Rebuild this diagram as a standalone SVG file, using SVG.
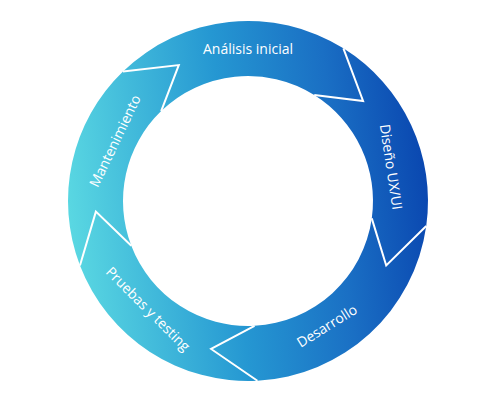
<svg xmlns="http://www.w3.org/2000/svg" width="495" height="400" viewBox="0 0 495 400">
  <style>
    .seg { fill: url(#ringGrad); stroke: none; }
    .edge { fill: none; stroke: #ffffff; stroke-width: 2; stroke-linejoin: miter; }
    .lbl { font-family: "Open Sans", "Liberation Sans", sans-serif; font-size: 14px; fill: #ffffff; text-anchor: middle; }
  </style>
  <defs>
    <linearGradient id="ringGrad" gradientUnits="userSpaceOnUse" x1="68" y1="220" x2="428" y2="180">
      <stop offset="0" stop-color="#5ad8e2"/>
      <stop offset="0.45" stop-color="#2597d2"/>
      <stop offset="0.75" stop-color="#1a6fc4"/>
      <stop offset="1" stop-color="#0a47b0"/>
    </linearGradient>
  </defs>
  <rect width="495" height="400" fill="#ffffff"/>

  <g id="analisis-inicial">
    <path class="seg" d="M122.96,71.52 A180,180 0 0 1 343.39,48.35 L363.09,100.95 L314.24,94.99 A125,125 0 0 0 161.17,111.08 L178.77,65.12 Z"/>
    <text class="lbl" x="248" y="54">Análisis inicial</text>
  </g>

  <g id="diseno-ux-ui">
    <path class="seg" d="M343.39,48.35 A180,180 0 0 1 426.25,226.05 L386.21,265.45 L371.78,218.40 A125,125 0 0 0 314.24,94.99 L363.09,100.95 Z"/>
    <text class="lbl" x="391" y="167" dy="0.35em" transform="rotate(81.5 391 167)">Diseño UX/UI</text>
  </g>

  <g id="desarrollo">
    <path class="seg" d="M426.25,226.05 A180,180 0 0 1 257.42,380.75 L211.11,348.97 L254.54,325.83 A125,125 0 0 0 371.78,218.40 L386.21,265.45 Z"/>
    <text class="lbl" x="327" y="326" dy="0.35em" transform="rotate(-32 327 326)">Desarrollo</text>
  </g>

  <g id="pruebas-y-testing">
    <path class="seg" d="M257.42,380.75 A180,180 0 0 1 79.96,265.51 L95.87,211.64 L131.30,245.80 A125,125 0 0 0 254.54,325.83 L211.11,348.97 Z"/>
    <text class="lbl" x="148" y="309" dy="0.35em" transform="rotate(45 148 309)">Pruebas y testing</text>
  </g>

  <g id="mantenimiento">
    <path class="seg" d="M79.96,265.51 A180,180 0 0 1 122.96,71.52 L178.77,65.12 L161.17,111.08 A125,125 0 0 0 131.30,245.80 L95.87,211.64 Z"/>
    <text class="lbl" x="115" y="141" dy="0.35em" transform="rotate(-64.4 115 141)">Mantenimiento</text>
  </g>

  <g id="connectors">
    <polyline class="edge" points="343.39,48.35 363.09,100.95 314.24,94.99"/>
    <polyline class="edge" points="426.25,226.05 386.21,265.45 371.78,218.40"/>
    <polyline class="edge" points="257.42,380.75 211.11,348.97 254.54,325.83"/>
    <polyline class="edge" points="79.96,265.51 95.87,211.64 131.30,245.80"/>
    <polyline class="edge" points="122.96,71.52 178.77,65.12 161.17,111.08"/>
  </g>
</svg>
